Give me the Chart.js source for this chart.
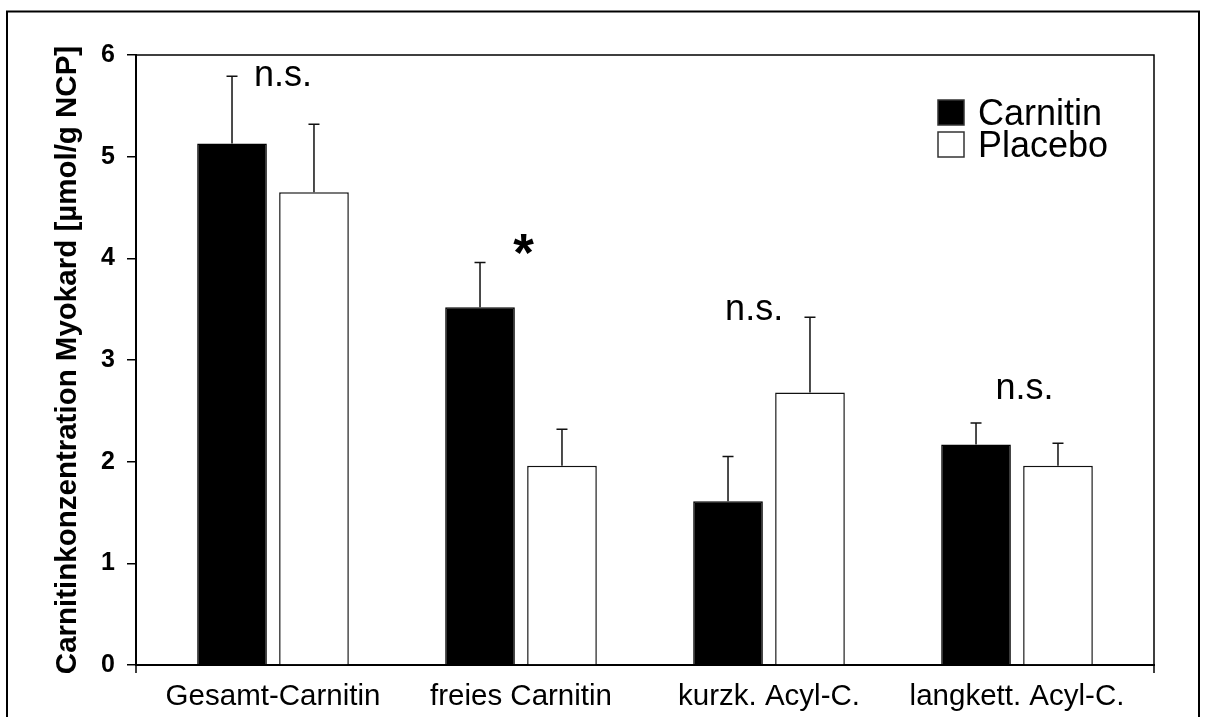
<!DOCTYPE html>
<html lang="de">
<head>
  <meta charset="UTF-8" />
  <title>Carnitin Myokard</title>
  <script src="https://cdn.jsdelivr.net/npm/chart.js"></script>
  <style>
    body { margin: 0; background: #fff; }
    canvas { display: block; }
  </style>
</head>
<body>
  <canvas id="chart" width="1207" height="717"></canvas>

  <script>
    // data
    const categories = ["Gesamt-Carnitin", "freies Carnitin", "kurzk. Acyl-C.", "langkett. Acyl-C."];
    const carnitin = [5.13, 3.52, 1.61, 2.17];
    const carnitinErr = [0.66, 0.44, 0.44, 0.21];
    const placebo = [4.65, 1.96, 2.68, 1.96];
    const placeboErr = [0.67, 0.36, 0.74, 0.22];
    const yTicks = [0, 1, 2, 3, 4, 5, 6];

    // significance marks: category position + value of text baseline
    const marks = [
      { text: "n.s.", x: 0.04, y: 5.70 },
      { text: "*", x: 1.01, y: 3.88 },
      { text: "n.s.", x: 1.94, y: 3.39 },
      { text: "n.s.", x: 3.03, y: 2.62 }
    ];

    const FONT = "'Liberation Sans', Arial, sans-serif";

    // error bars (upper only)
    const errorBars = {
      id: "errorBars",
      afterDatasetsDraw(chart) {
        const ctx = chart.ctx;
        const y = chart.scales.y;
        ctx.save();
        ctx.strokeStyle = "#111";
        ctx.lineWidth = 1.5;
        chart.data.datasets.forEach((ds, di) => {
          const meta = chart.getDatasetMeta(di);
          meta.data.forEach((bar, i) => {
            const top = y.getPixelForValue(ds.data[i].y + ds.errors[i]);
            ctx.beginPath();
            ctx.moveTo(bar.x, bar.y);
            ctx.lineTo(bar.x, top);
            ctx.moveTo(bar.x - 5.5, top);
            ctx.lineTo(bar.x + 5.5, top);
            ctx.stroke();
          });
        });
        ctx.restore();
      }
    };

    // outer frame, plot frame, legend, n.s. labels
    const extras = {
      id: "extras",
      afterDraw(chart) {
        const ctx = chart.ctx;
        const a = chart.chartArea;
        const xs = chart.scales.x, ys = chart.scales.y;
        ctx.save();
        ctx.strokeStyle = "#000";

        ctx.lineWidth = 2;
        ctx.strokeRect(7, 11.5, 1192, 760);

        ctx.lineWidth = 1.5;
        ctx.beginPath();
        ctx.moveTo(a.left, a.top);
        ctx.lineTo(a.right, a.top);
        ctx.lineTo(a.right, a.bottom + 8);
        ctx.moveTo(a.left, a.bottom);
        ctx.lineTo(a.left, a.bottom + 8);
        ctx.stroke();

        // legend
        ctx.font = "36px " + FONT;
        ctx.textBaseline = "alphabetic";
        ctx.textAlign = "left";
        chart.data.datasets.forEach((ds, i) => {
          const bx = a.right - 216, by = a.top + 45 + i * 32;
          ctx.fillStyle = ds.backgroundColor;
          ctx.fillRect(bx, by, 26, 25);
          ctx.strokeStyle = "#333";
          ctx.lineWidth = 1.5;
          ctx.strokeRect(bx, by, 26, 25);
          ctx.fillStyle = "#000";
          ctx.fillText(ds.label, bx + 40, by + 25);
        });

        // significance marks
        ctx.textAlign = "center";
        marks.forEach(m => {
          ctx.font = m.text === "*" ? "bold 53px " + FONT : "36px " + FONT;
          ctx.fillText(m.text, xs.getPixelForValue(m.x), ys.getPixelForValue(m.y));
        });
        ctx.restore();
      }
    };

    new Chart(document.getElementById("chart"), {
      type: "bar",
      data: {
        datasets: [
          {
            label: "Carnitin",
            data: carnitin.map((v, i) => ({ x: i, y: v })),
            errors: carnitinErr,
            backgroundColor: "#000000",
            borderColor: "#000000",
            borderWidth: 1.5
          },
          {
            label: "Placebo",
            data: placebo.map((v, i) => ({ x: i, y: v })),
            errors: placeboErr,
            backgroundColor: "#ffffff",
            borderColor: "#111111",
            borderWidth: 1.5
          }
        ]
      },
      options: {
        responsive: false,
        animation: false,
        categoryPercentage: 0.661,
        barPercentage: 0.85,
        layout: { padding: { top: 55, right: 53, left: 0, bottom: 0 } },
        plugins: { legend: { display: false }, tooltip: { enabled: false } },
        scales: {
          x: {
            type: "linear",
            offset: false,
            min: -0.5524,
            max: 3.5524,
            afterBuildTicks: s => { s.ticks = categories.map((c, i) => ({ value: i })); },
            afterFit: s => { s.height = 52; },
            grid: { offset: false, drawOnChartArea: false, drawTicks: false },
            border: { color: "#000", width: 2 },
            ticks: {
              autoSkip: false,
              maxRotation: 0,
              padding: 14,
              color: "#000",
              font: { family: FONT, size: 29.5 },
              callback: v => categories[v]
            }
          },
          y: {
            min: 0,
            max: 6,
            afterBuildTicks: s => { s.ticks = yTicks.map(v => ({ value: v })); },
            afterFit: s => { s.width = 136; },
            grid: { drawOnChartArea: false, drawTicks: true, tickLength: 9, color: "#000", lineWidth: 1.5 },
            border: { color: "#000", width: 2 },
            ticks: {
              padding: 12,
              color: "#000",
              font: { family: FONT, size: 25, weight: "bold" }
            },
            title: {
              display: true,
              text: "Carnitinkonzentration Myokard [µmol/g NCP]",
              color: "#000",
              padding: { top: 50, bottom: 0 },
              font: { family: FONT, size: 29.5, weight: "bold" }
            }
          }
        }
      },
      plugins: [errorBars, extras]
    });
  </script>
</body>
</html>
